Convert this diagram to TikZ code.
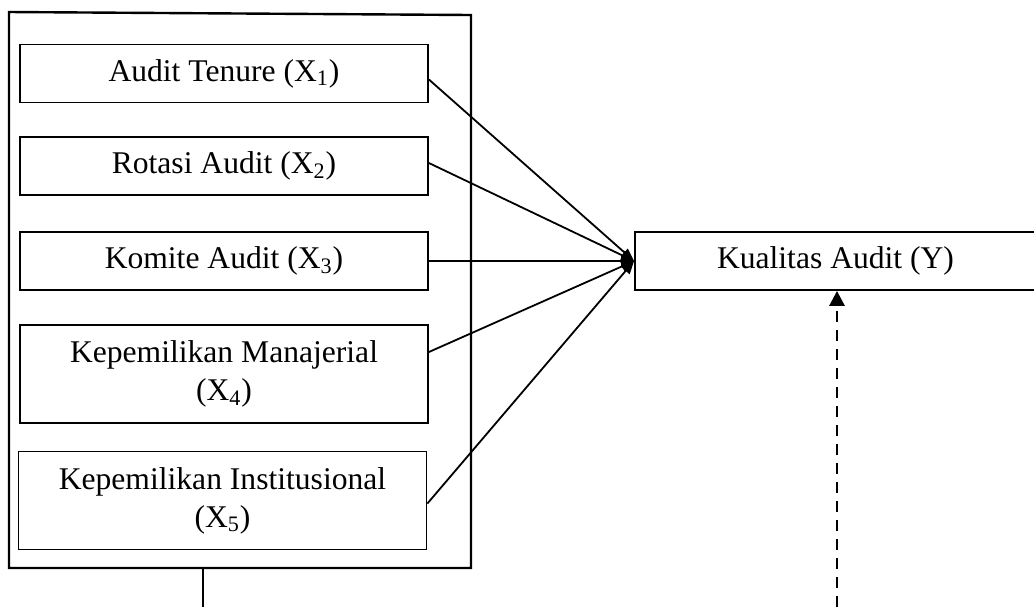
\documentclass[tikz,border=0pt]{standalone}
\usepackage{fontspec}
\setmainfont{Liberation Serif}
\usetikzlibrary{arrows.meta}
\begin{document}
\begin{tikzpicture}[
	x=0.5pt, y=-0.5pt,
	box/.style={draw, rectangle, line width=0.9pt, minimum width=204pt, minimum height=29pt, inner sep=2pt, align=center, font=\fontsize{15.8pt}{19pt}\selectfont},
	tallbox/.style={box, minimum height=49pt},
	>={Triangle[width=5pt,length=6.5pt]}
	]
	
	%-----------------------
	% Canvas (reference size in px)
	%-----------------------
	\useasboundingbox (0,0) rectangle (1034,607);
	
	%-----------------------
	% Customizable rows (box centres, px)
	%-----------------------
	\def\xcol{224}      % column of the X boxes
	\def\hXI{73.5}      % X1
	\def\hXII{166}      % X2
	\def\hXIII{261}     % X3 and Y
	\def\hXIV{374}      % X4
	\def\hXV{500.5}     % X5
	
	%-----------------------
	% Outer frame round the independent variables
	%-----------------------
	\coordinate (FrTL) at (9,12);
	\coordinate (FrTR) at (471,15);
	\coordinate (FrBR) at (471,568);
	\coordinate (FrBL) at (9,568);
	\draw[line width=1.2pt] (FrTL) -- (FrTR) -- (FrBR) -- (FrBL) -- cycle;
	
	%-----------------------
	% Independent variables X1..X5
	%-----------------------
	\node[box] (X1) at (\xcol,\hXI) {Audit Tenure (X\textsubscript{1})};
	\node[box] (X2) at (\xcol,\hXII) {Rotasi Audit (X\textsubscript{2})};
	\node[box] (X3) at (\xcol,\hXIII) {Komite Audit (X\textsubscript{3})};
	\node[tallbox] (X4) at (\xcol,\hXIV) {Kepemilikan Manajerial\\(X\textsubscript{4})};
	\node[tallbox] (X5) at (\xcol-1.5,\hXV) {Kepemilikan Institusional\\(X\textsubscript{5})};
	
	%-----------------------
	% Dependent variable Y (right side runs off the page)
	%-----------------------
	\node[box, minimum width=200.5pt] (Y) at (835.5,\hXIII) {Kualitas Audit (Y)};
	
	%-----------------------
	% Connections
	%-----------------------
	\tikzset{connect/.style={->, line width=0.9pt, shorten >=0pt}}
	
	% X -> Y
	\draw[connect] ([yshift=-3pt]X1.east) -- (Y.west);
	\draw[connect] ([yshift=1.5pt]X2.east) -- (Y.west);
	\draw[connect] (X3.east) -- (Y.west);
	\draw[connect] ([yshift=11pt]X4.east) -- (Y.west);
	\draw[connect] ([yshift=-1.5pt]X5.east) -- (Y.west);
	
	% stub below the frame
	\coordinate (StubTop) at (203,568);
	\coordinate (StubEnd) at (203,607);
	\draw[line width=1.2pt] (StubTop) -- (StubEnd);
	
	% dashed link into Y
	\coordinate (DashEnd) at (837,607);
	\draw[->, line width=1.4pt, dash pattern=on 5.5pt off 4pt, >={Triangle[width=7.5pt,length=7.5pt]}] (DashEnd) -- (DashEnd |- Y.south);
	
\end{tikzpicture}
\end{document}
